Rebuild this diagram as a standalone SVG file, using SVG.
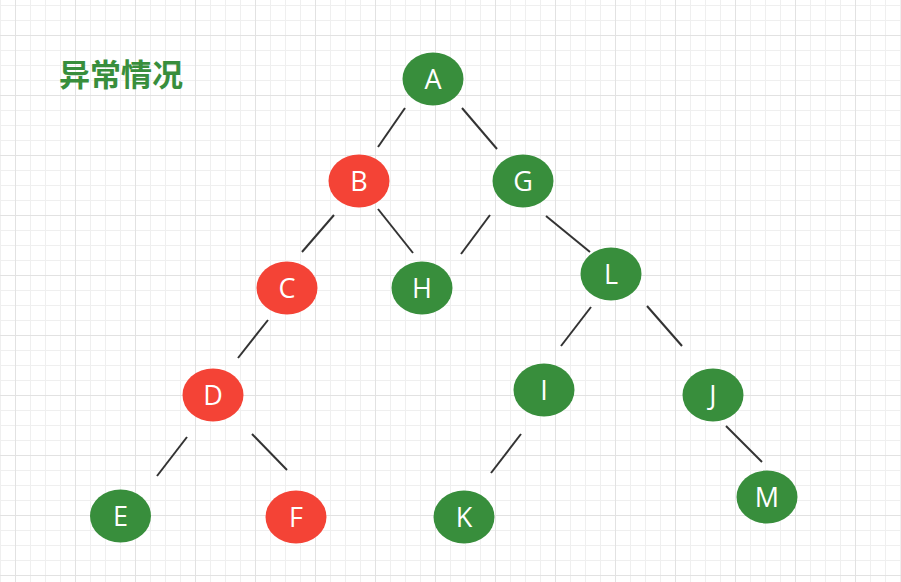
<svg xmlns="http://www.w3.org/2000/svg" width="901" height="582" viewBox="0 0 901 582">
<defs>
<pattern id="minor" width="15" height="15" patternUnits="userSpaceOnUse" x="0" y="5">
<path d="M0 0.5H15M0.5 0V15" fill="none" stroke="#efefef" stroke-width="1"/>
</pattern>
<pattern id="major" width="60" height="60" patternUnits="userSpaceOnUse" x="15" y="35">
<path d="M0 0.5H60M0.5 0V60" fill="none" stroke="#e2e2e2" stroke-width="1"/>
</pattern>
</defs>
<style>
.g{fill:#388e3c}
.r{fill:#f44336}
.t{fill:#ffffff;font-family:"Open Sans","DejaVu Sans",sans-serif;font-size:27px;text-anchor:middle}
.c line{stroke:#333333;stroke-width:2;stroke-linecap:butt}
</style>
<rect width="901" height="582" fill="#ffffff"/>
<rect width="901" height="582" fill="url(#minor)"/>
<rect width="901" height="582" fill="url(#major)"/>
<text x="59" y="86" font-family="'Noto Sans CJK SC',sans-serif" font-weight="bold" font-size="31" fill="#388e3c">异常情况</text>
<g class="c" id="connectors">
<line x1="405" y1="108" x2="378" y2="147"/>
<line x1="462" y1="108" x2="497" y2="149"/>
<line x1="334" y1="215" x2="302" y2="252"/>
<line x1="378" y1="209" x2="413" y2="253"/>
<line x1="490" y1="215" x2="461" y2="254"/>
<line x1="546" y1="216" x2="590" y2="252"/>
<line x1="268" y1="320" x2="238" y2="358"/>
<line x1="591" y1="307" x2="561" y2="346"/>
<line x1="647" y1="306" x2="682" y2="346"/>
<line x1="187" y1="437" x2="157" y2="476"/>
<line x1="252" y1="434" x2="287" y2="470"/>
<line x1="521" y1="434" x2="491" y2="473"/>
<line x1="726" y1="426" x2="762" y2="462"/>
</g>
<g id="A"><ellipse class="g" cx="433" cy="79" rx="30.5" ry="26.5"/><text class="t" x="433" y="89">A</text></g>
<g id="B"><ellipse class="r" cx="359" cy="181" rx="30.5" ry="26.5"/><text class="t" x="359" y="191">B</text></g>
<g id="G"><ellipse class="g" cx="523" cy="181" rx="30.5" ry="26.5"/><text class="t" x="523" y="191">G</text></g>
<g id="C"><ellipse class="r" cx="287" cy="288" rx="30.5" ry="26.5"/><text class="t" x="287" y="298">C</text></g>
<g id="H"><ellipse class="g" cx="422" cy="288" rx="30.5" ry="26.5"/><text class="t" x="422" y="298">H</text></g>
<g id="L"><ellipse class="g" cx="611" cy="274" rx="30.5" ry="26.5"/><text class="t" x="611" y="284">L</text></g>
<g id="D"><ellipse class="r" cx="213" cy="395" rx="30.5" ry="26.5"/><text class="t" x="213" y="405">D</text></g>
<g id="I"><ellipse class="g" cx="544" cy="390" rx="30.5" ry="26.5"/><text class="t" x="544" y="400">I</text></g>
<g id="J"><ellipse class="g" cx="713" cy="395" rx="30.5" ry="26.5"/><text class="t" x="713" y="405">J</text></g>
<g id="E"><ellipse class="g" cx="120.5" cy="516" rx="30.5" ry="26.5"/><text class="t" x="120.5" y="526">E</text></g>
<g id="F"><ellipse class="r" cx="296" cy="517" rx="30.5" ry="26.5"/><text class="t" x="296" y="527">F</text></g>
<g id="K"><ellipse class="g" cx="464" cy="517" rx="30.5" ry="26.5"/><text class="t" x="464" y="527">K</text></g>
<g id="M"><ellipse class="g" cx="767" cy="497" rx="30.5" ry="26.5"/><text class="t" x="767" y="507">M</text></g>
</svg>
